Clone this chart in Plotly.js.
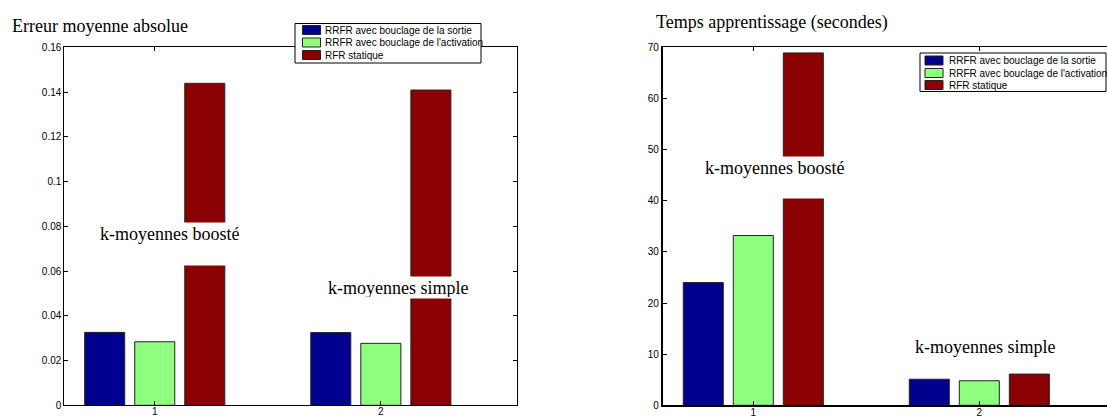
<!DOCTYPE html>
<html>
<head>
<meta charset="utf-8">
<script src="https://cdn.plot.ly/plotly-3.0.1.min.js"></script>
<style>html,body{margin:0;padding:0;background:#fff;}#chart{width:1107px;height:417px;}</style>
</head>
<body>
<div id="chart"></div>
<script>
// ---- data ----
const categories = [1, 2];
const seriesNames = ["RRFR avec bouclage de la sortie", "RRFR avec bouclage de l'activation", "RFR statique"];
const seriesColors = ["#00008F", "#8FFF80", "#8B0000"];
const erreurSortie = [0.0326, 0.0325];
const erreurActivation = [0.0284, 0.0277];
const erreurStatique = [0.1439, 0.1409];
const tempsSortie = [24.0, 5.1];
const tempsActivation = [33.2, 4.8];
const tempsStatique = [68.9, 6.1];
const groupLabels = ["k-moyennes boosté", "k-moyennes simple"];
const panelTitles = ["Erreur moyenne absolue", "Temps apprentissage (secondes)"];
const tickLabels = ["1", "2"];

const W = 1107, H = 417;
const px = v => v / W, py = v => 1 - v / H;

const errSeries = [erreurSortie, erreurActivation, erreurStatique];
const tpsSeries = [tempsSortie, tempsActivation, tempsStatique];
const traces = [];
errSeries.forEach((vals, i) => traces.push({
  type: 'bar', x: categories, y: vals, name: seriesNames[i], xaxis: 'x', yaxis: 'y',
  marker: {color: seriesColors[i], line: {color: '#222', width: 1}}, hoverinfo: 'none', showlegend: false
}));
tpsSeries.forEach((vals, i) => traces.push({
  type: 'bar', x: categories, y: vals, name: seriesNames[i], xaxis: 'x2', yaxis: 'y2',
  marker: {color: seriesColors[i], line: {color: '#222', width: 1}}, hoverinfo: 'none', showlegend: false
}));

const sans = 'Liberation Sans, Arial, sans-serif';
const tickFont = {family: sans, size: 10, color: '#000'};
const serif = {family: 'Liberation Serif, Times New Roman, serif', size: 18, color: '#000'};
const ydom = [1 - 405.3 / H, 1 - 47.3 / H];

// manual legends (MATLAB style compact boxes)
const shapes = [];
const annotations = [];
function addLegend(left, top, width, height, swLeft, textLeft, rowYs) {
  shapes.push({type: 'rect', xref: 'paper', yref: 'paper', x0: px(left), x1: px(left + width),
    y0: py(top), y1: py(top + height), fillcolor: '#fff', line: {color: '#000', width: 1}, layer: 'above'});
  seriesNames.forEach((name, i) => {
    const cy = rowYs[i];
    shapes.push({type: 'rect', xref: 'paper', yref: 'paper', x0: px(swLeft), x1: px(swLeft + 18),
      y0: py(cy - 4.5), y1: py(cy + 4.5), fillcolor: seriesColors[i], line: {color: '#222', width: 1}, layer: 'above'});
    annotations.push({xref: 'paper', yref: 'paper', x: px(textLeft), y: py(cy), xanchor: 'left', yanchor: 'middle',
      text: name, showarrow: false, font: {family: sans, size: 10, color: '#000'}, borderpad: 0});
  });
}
addLegend(295, 23.5, 186, 39.5, 302.5, 324, [30, 42.5, 55]);
addLegend(920, 53, 186, 38.5, 925, 947.5, [60.5, 73, 85]);

annotations.push(
  {xref: 'paper', yref: 'paper', x: px(10), y: py(26), xanchor: 'left', yanchor: 'middle',
    text: panelTitles[0], showarrow: false, font: serif},
  {xref: 'paper', yref: 'paper', x: px(654), y: py(22.5), xanchor: 'left', yanchor: 'middle',
    text: panelTitles[1], showarrow: false, font: serif},
  {xref: 'x', yref: 'y', x: 1.067, y: 0.0819, xanchor: 'center', yanchor: 'top', valign: 'top',
    height: 40, borderpad: 1, bgcolor: '#fff', text: groupLabels[0], showarrow: false, font: serif},
  {xref: 'x', yref: 'y', x: 2.078, y: 0.0578, xanchor: 'center', yanchor: 'top', valign: 'top',
    height: 19, borderpad: 1, bgcolor: '#fff', text: groupLabels[1], showarrow: false, font: serif},
  {xref: 'x2', yref: 'y2', x: 1.095, y: 48.8, xanchor: 'center', yanchor: 'top', valign: 'top',
    height: 39, borderpad: 1, bgcolor: '#fff', text: groupLabels[0], showarrow: false, font: serif},
  {xref: 'x2', yref: 'y2', x: 2.024, y: 11.4, xanchor: 'center', yanchor: 'middle',
    text: groupLabels[1], showarrow: false, font: serif}
);

const layout = {
  width: W, height: H, margin: {l: 0, r: 0, t: 0, b: 0, pad: 0},
  paper_bgcolor: '#fff', plot_bgcolor: '#fff',
  barmode: 'group', bargap: 0.336, bargroupgap: 0.2,
  showlegend: false,
  xaxis: {domain: [px(64.3), px(516.5)], range: [0.6, 2.6], tickvals: categories, ticktext: tickLabels,
    ticks: 'inside', ticklen: 4, tickcolor: '#000', showline: true, linecolor: '#000', linewidth: 1,
    mirror: 'ticks', showgrid: false, zeroline: false, tickfont: tickFont, anchor: 'y', fixedrange: true,
    ticklabelstandoff: -3},
  yaxis: {domain: ydom, range: [0, 0.16], dtick: 0.02, ticks: 'inside', ticklen: 4, tickcolor: '#000',
    showline: true, linecolor: '#000', linewidth: 1, mirror: 'ticks', showgrid: false, zeroline: false,
    tickfont: tickFont, anchor: 'x', fixedrange: true},
  xaxis2: {domain: [px(662.9), 1], range: [0.6, 2.565], tickvals: categories, ticktext: tickLabels,
    ticks: 'inside', ticklen: 4, tickcolor: '#000', showline: true, linecolor: '#000', linewidth: 1.5,
    mirror: 'ticks', showgrid: false, zeroline: false, tickfont: tickFont, anchor: 'y2', fixedrange: true,
    ticklabelstandoff: -3},
  yaxis2: {domain: ydom, range: [0, 70], dtick: 10, ticks: 'inside', ticklen: 4, tickcolor: '#000',
    showline: true, linecolor: '#000', linewidth: 2, mirror: false, showgrid: false, zeroline: false,
    tickfont: tickFont, anchor: 'x2', fixedrange: true},
  shapes: shapes,
  annotations: annotations
};

Plotly.newPlot('chart', traces, layout, {displayModeBar: false, staticPlot: true});
</script>
</body>
</html>
